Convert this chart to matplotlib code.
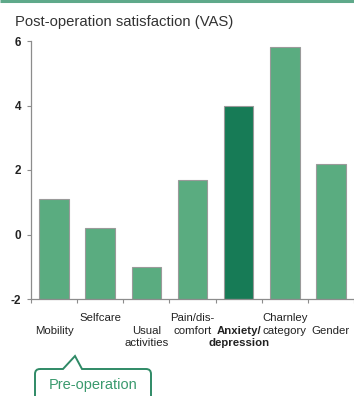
import numpy as np
import matplotlib
matplotlib.use('Agg')
import matplotlib.pyplot as plt
import matplotlib.transforms as mtransforms
from matplotlib.path import Path
from matplotlib.patches import PathPatch

plt.rcParams['font.family'] = ['Liberation Sans', 'DejaVu Sans']

# data
label_lines = [['Mobility'], ['Selfcare'], ['Usual', 'activities'], ['Pain/dis-', 'comfort'],
               ['Anxiety/', 'depression'], ['Charnley', 'category'], ['Gender']]
label_row = [1, 0, 1, 0, 1, 0, 1]   # staggered: which text row the label starts on
values = [1.1, 0.2, -1.0, 1.7, 4.0, 5.8, 2.2]
highlight = 4
y_ticks = [-2, 0, 2, 4, 6]

light = '#5aac80'
dark = '#177b56'
grey = '#8c8c8c'

W, H = 354, 396
fig = plt.figure(figsize=(W / 100, H / 100), dpi=100)

# main axes, placed in pixels
ax = fig.add_axes([31 / W, (H - 299) / H, (W - 31) / W, (299 - 41) / H])
x = np.arange(len(values))
colors = [dark if i == highlight else light for i in x]
ax.bar(x, np.array(values) + 2, bottom=-2, width=0.64, color=colors,
       edgecolor='#9a9a9a', linewidth=0.8)

ax.set_ylim(-2, 6)
ax.set_xlim(-0.5, 6.43)
ax.set_yticks(y_ticks)
ax.set_yticklabels([str(v) for v in y_ticks], fontsize=8.5, fontweight='bold', color='#222222')
ax.tick_params(axis='y', length=3, color=grey, width=0.8, pad=4)

# ticks between the categories, labels written line by line below
ax.set_xticks(list(np.arange(len(values) + 1) - 0.5))
ax.set_xticklabels([])
ax.tick_params(axis='x', length=3, color=grey, width=0.8)

row_px = [19, 31.5, 44]   # pixels below the axis for each text row
base = mtransforms.blended_transform_factory(ax.transData, ax.transAxes)
for i, lines in enumerate(label_lines):
    for j, line in enumerate(lines):
        dy = -row_px[label_row[i] + j] * 72 / 100
        tr = mtransforms.offset_copy(base, fig=fig, x=0, y=dy, units='points')
        ax.text(x[i], 0, line, transform=tr, ha='center', va='center', fontsize=8.2,
                color='#222222', fontweight='bold' if i == highlight else 'normal',
                clip_on=False)

for side in ['top', 'right']:
    ax.spines[side].set_visible(False)
for side in ['left', 'bottom']:
    ax.spines[side].set_color(grey)
    ax.spines[side].set_linewidth(0.9)

fig.text(15 / W, 1 - 22 / H, 'Post-operation satisfaction (VAS)', fontsize=10.7,
         color='#333333', va='center', ha='left')

# overlay in pixel coordinates for the decoration
ov = fig.add_axes([0, 0, 1, 1], zorder=-1)
ov.set_xlim(0, W)
ov.set_ylim(H, 0)
ov.axis('off')
ov.plot([0, W], [1, 1], color='#5fa98a', linewidth=2.2, solid_capstyle='butt')

# callout box with pointer
r = 5
L, R, T, B = 35, 151, 369, 402
verts = [(L + r, T), (63, T), (75, 356), (82, T), (R - r, T),
         (R, T), (R, T + r), (R, B), (L, B), (L, T + r), (L, T), (L + r, T)]
codes = [Path.MOVETO, Path.LINETO, Path.LINETO, Path.LINETO, Path.LINETO,
         Path.CURVE3, Path.CURVE3, Path.LINETO, Path.LINETO, Path.LINETO,
         Path.CURVE3, Path.CURVE3]
ov.add_patch(PathPatch(Path(verts, codes), facecolor='white', edgecolor='#2f8a66',
                       linewidth=1.4))
ov.text(93, 385, 'Pre-operation', fontsize=10.5, color='#3a9a6e', ha='center', va='center')

fig.savefig('out.png', dpi=100)
